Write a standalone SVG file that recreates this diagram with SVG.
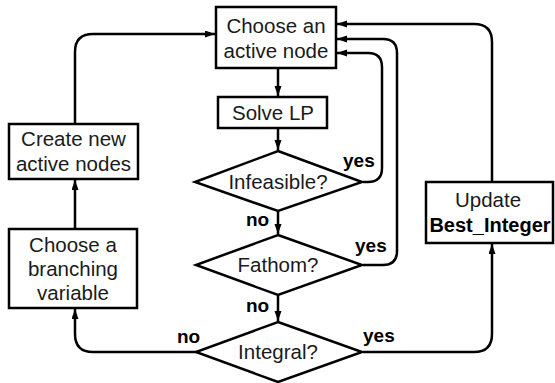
<svg xmlns="http://www.w3.org/2000/svg" width="555" height="383" viewBox="0 0 555 383">
  <style>
    .box { fill: #fff; stroke: #000; stroke-width: 2.5; }
    .lbl { font-family: "Liberation Sans", Arial, sans-serif; font-size: 20.5px; fill: #1a1a1a; text-anchor: middle; }
    .bold { font-weight: bold; fill: #000; font-size: 20px; }
    .ans { font-family: "Liberation Sans", Arial, sans-serif; font-size: 19px; font-weight: bold; fill: #000; }
    .edge { fill: none; stroke: #000; stroke-width: 2.5; }
  </style>
  <defs>
    <marker id="arrow" markerUnits="userSpaceOnUse" markerWidth="11" markerHeight="8" refX="10" refY="3.5" orient="auto">
      <path d="M0,0 L10,3.5 L0,7 z" fill="#000"/>
    </marker>
  </defs>
  <rect width="555" height="383" fill="#fff"/>

  <g id="connectors">
    <path class="edge" d="M278,68 V96" marker-end="url(#arrow)"/>
    <path class="edge" d="M278,128 V150" marker-end="url(#arrow)"/>
    <path class="edge" d="M278,211 V234" marker-end="url(#arrow)"/>
    <path class="edge" d="M278,295 V321" marker-end="url(#arrow)"/>
    <path class="edge" d="M363,182 H368 Q382,182 382,168 V67 Q382,53 368,53 H337" marker-end="url(#arrow)"/>
    <path class="edge" d="M363,265 H383 Q397,265 397,251 V53 Q397,39 383,39 H337" marker-end="url(#arrow)"/>
    <path class="edge" d="M492,182 V42 Q492,24 474,24 H337" marker-end="url(#arrow)"/>
    <path class="edge" d="M363,352 H474 Q492,352 492,334 V244" marker-end="url(#arrow)"/>
    <path class="edge" d="M197,352 H93 Q75,352 75,334 V309" marker-end="url(#arrow)"/>
    <path class="edge" d="M75,229 V180" marker-end="url(#arrow)"/>
    <path class="edge" d="M75,124 V52 Q75,34 93,34 H215" marker-end="url(#arrow)"/>
  </g>

  <g id="choose-node">
    <rect class="box" x="216" y="7" width="120" height="61"/>
    <text class="lbl" x="276" y="33">Choose an</text>
    <text class="lbl" x="276" y="58">active node</text>
  </g>
  <g id="solve-lp">
    <rect class="box" x="218" y="97" width="109" height="31"/>
    <text class="lbl" x="273" y="120">Solve LP</text>
  </g>
  <g id="infeasible">
    <polygon class="box" points="278,151 362,182 278,211 195,182"/>
    <text class="lbl" x="278" y="189">Infeasible?</text>
  </g>
  <g id="fathom">
    <polygon class="box" points="278,235 362,265 278,295 196,265"/>
    <text class="lbl" x="278" y="272">Fathom?</text>
  </g>
  <g id="integral">
    <polygon class="box" points="278,322 362,352 278,382 196,352"/>
    <text class="lbl" x="278" y="359">Integral?</text>
  </g>
  <g id="create-nodes">
    <rect class="box" x="9" y="124" width="129" height="55"/>
    <text class="lbl" x="73.5" y="146">Create new</text>
    <text class="lbl" x="73.5" y="171">active nodes</text>
  </g>
  <g id="branching">
    <rect class="box" x="9" y="229" width="128" height="79"/>
    <text class="lbl" x="73" y="252">Choose a</text>
    <text class="lbl" x="73" y="276">branching</text>
    <text class="lbl" x="73" y="300">variable</text>
  </g>
  <g id="update-best">
    <rect class="box" x="426" y="182" width="127" height="61"/>
    <text class="lbl" x="488" y="207">Update</text>
    <text class="lbl bold" x="490" y="232">Best_Integer</text>
  </g>

  <g id="answers">
    <text class="ans" x="343" y="167">yes</text>
    <text class="ans" x="355" y="252">yes</text>
    <text class="ans" x="363" y="342">yes</text>
    <text class="ans" x="246" y="226">no</text>
    <text class="ans" x="246" y="312">no</text>
    <text class="ans" x="177" y="343">no</text>
  </g>
</svg>
